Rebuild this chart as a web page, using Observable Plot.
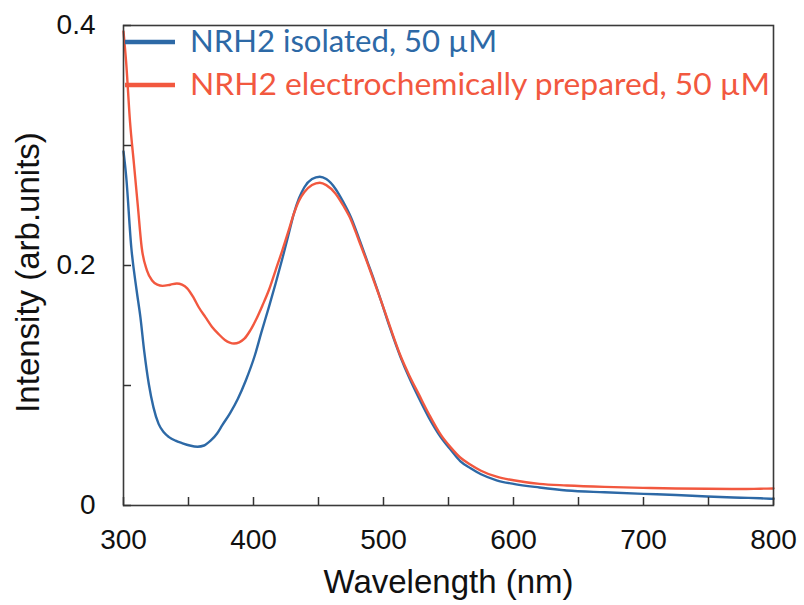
<!DOCTYPE html>
<html><head><meta charset="utf-8">
<script src="https://cdn.jsdelivr.net/npm/d3@7"></script>
<script src="https://cdn.jsdelivr.net/npm/@observablehq/plot@0.6"></script>
<style>
body{margin:0;background:#fff;}
#wrap{width:804px;height:605px;}
</style></head><body><div id="wrap"></div>
<script>
const seriesNames = ["NRH2 isolated, 50 µM", "NRH2 electrochemically prepared, 50 µM"];
const seriesColors = ["#2d69a6", "#f2583f"];

const isoWavelength = [300,302,306,310,313,316,319.5,323,327,331,335,340,345,351,357,362,367,372,376,382,388,394,401,406,412,417,422,427,431,435,439,445,451,456,463,469,475,481,488,493,498,505,513,520,527,535,544,552,559,567,575,587,600,620,641,670,700,725,749,775,790,800];
const isoIntensity = [0.295,0.275,0.215,0.18,0.157,0.128,0.101,0.082,0.068,0.061,0.057,0.054,0.052,0.050,0.049,0.050,0.054,0.060,0.067,0.077,0.089,0.104,0.125,0.144,0.166,0.185,0.205,0.226,0.243,0.256,0.265,0.272,0.274,0.272,0.264,0.253,0.240,0.223,0.202,0.187,0.171,0.148,0.124,0.106,0.090,0.073,0.057,0.046,0.037,0.031,0.026,0.021,0.018,0.015,0.0125,0.011,0.0097,0.0088,0.0075,0.0065,0.006,0.0055];

const echemWavelength = [300,302,305,308,311,314,318,322,326,330,336,341,345,349,354,358,363,368,373,378,385,389,393,397,402,407,412,417,422,427,431,435,439,445,451,456,463,469,475,481,488,493,498,505,513,520,527,535,544,552,559,567,575,587,600,620,641,670,700,725,749,775,790,800];
const echemIntensity = [0.395,0.37,0.32,0.285,0.25,0.215,0.196,0.1875,0.184,0.183,0.184,0.185,0.184,0.181,0.173,0.165,0.157,0.149,0.143,0.138,0.135,0.136,0.139,0.145,0.155,0.167,0.180,0.196,0.212,0.229,0.243,0.254,0.261,0.267,0.269,0.267,0.260,0.250,0.238,0.221,0.201,0.186,0.171,0.149,0.125,0.108,0.093,0.076,0.059,0.048,0.040,0.034,0.029,0.024,0.021,0.018,0.0167,0.0155,0.0147,0.0142,0.0139,0.0137,0.014,0.0142];

const xTickValues = [300,350,400,450,500,550,600,650,700,750,800];
const xLabelValues = [300,400,500,600,700,800];
const yTickValues = [0,0.1,0.2,0.3,0.4];
const yLabelValues = [0,0.2,0.4];

const rows = [
  ...isoWavelength.map((w,i)=>({wl:w, v:isoIntensity[i], s:seriesNames[0]})),
  ...echemWavelength.map((w,i)=>({wl:w, v:echemIntensity[i], s:seriesNames[1]}))
];

const font = "'Liberation Sans', Arial, sans-serif";
const plot = Plot.plot({
  width: 804, height: 605,
  marginLeft: 123, marginRight: 31, marginTop: 25, marginBottom: 100,
  x: {domain: [300, 800]},
  y: {domain: [0, 0.4]},
  color: {domain: seriesNames, range: seriesColors},
  style: {fontFamily: font, background: "white", color: "#111"},
  marks: [
    Plot.line(rows, {x: "wl", y: "v", z: "s", stroke: "s", strokeWidth: 2.4, curve: "monotone-x"}),
    Plot.frame({stroke: "#3a3a3a", strokeWidth: 1.6}),
    Plot.axisX(xTickValues, {tickSize: -8, tickFormat: () => "", label: null, stroke: "#333", strokeWidth: 1.5}),
    Plot.axisX(xLabelValues, {tickSize: 0, tickPadding: 24, fontSize: 28, label: null}),
    Plot.axisY(yTickValues, {tickSize: -8, tickFormat: () => "", label: null, stroke: "#333", strokeWidth: 1.5}),
    Plot.axisY(yLabelValues, {tickSize: 0, tickPadding: 28, fontSize: 28, label: null, tickFormat: d => d === 0 ? "0" : String(d)}),
    Plot.text(["Wavelength (nm)"], {frameAnchor: "bottom", dy: 77, fontSize: 33, lineAnchor: "middle", textAnchor: "middle"}),
    Plot.text(["Intensity (arb.units)"], {frameAnchor: "left", dx: -95, dy: 7, rotate: -90, fontSize: 33, lineAnchor: "middle", textAnchor: "middle"})
  ]
});

// legend inside the plot area
const svg = d3.select(plot);
const lg = svg.append("g").attr("font-family", "Lato, 'Open Sans', sans-serif").attr("text-anchor", "start");
const legendRows = [
  {name: seriesNames[0], color: seriesColors[0], lineY: 42, base: 52, len: 307},
  {name: seriesNames[1], color: seriesColors[1], lineY: 85, base: 95, len: 580}
];
legendRows.forEach(r => {
  lg.append("line").attr("x1", 125).attr("x2", 175).attr("y1", r.lineY).attr("y2", r.lineY)
    .attr("stroke", r.color).attr("stroke-width", 4.5);
  lg.append("text").attr("x", 190).attr("y", r.base).attr("fill", r.color)
    .attr("text-anchor", "start")
    .attr("font-size", 30).attr("textLength", r.len).attr("lengthAdjust", "spacingAndGlyphs")
    .text(r.name);
});

document.getElementById("wrap").appendChild(plot);
</script>
</body></html>
